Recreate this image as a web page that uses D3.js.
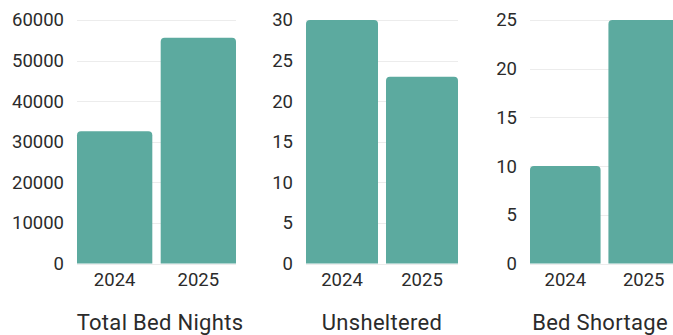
<!DOCTYPE html>
<html>
<head>
<meta charset="utf-8">
<script src="https://cdn.jsdelivr.net/npm/d3@7"></script>
<style>
  html, body { margin: 0; padding: 0; background: #fff; }
  svg { display: block; font-family: Roboto, "Open Sans", sans-serif; }
</style>
</head>
<body>
<svg id="chart" width="673" height="335"></svg>
<script>
// Year categories shared by every panel
const years = ["2024", "2025"];

// One small series per panel
const totalBedNights = [32600, 55600];
const unsheltered = [30, 23];
const bedShortage = [10, 25];

// Panel titles and y tick values
const titles = ["Total Bed Nights", "Unsheltered", "Bed Shortage"];
const ticksTotal = [0, 10000, 20000, 30000, 40000, 50000, 60000];
const ticksUnsheltered = [0, 5, 10, 15, 20, 25, 30];
const ticksShortage = [0, 5, 10, 15, 20, 25];

const panels = [
  { title: titles[0], values: totalBedNights, ticks: ticksTotal, x0: 77, x1: 236, tx: 160 },
  { title: titles[1], values: unsheltered, ticks: ticksUnsheltered, x0: 306, x1: 458, tx: 382 },
  { title: titles[2], values: bedShortage, ticks: ticksShortage, x0: 530, x1: 679, tx: 600 }
];

const svg = d3.select("#chart");
const plotTop = 20, plotBottom = 263.5;
const barColor = "#5caa9f";
const textColor = "#2b2b2b";
const fontStack = "Roboto, sans-serif";

// Bar with rounded top corners and square base
function barPath(x, y, w, h, r) {
  r = Math.min(r, w / 2, h);
  return `M${x},${y + h}V${y + r}Q${x},${y} ${x + r},${y}H${x + w - r}Q${x + w},${y} ${x + w},${y + r}V${y + h}Z`;
}

panels.forEach(p => {
  const g = svg.append("g");
  const x = d3.scaleBand().domain(years).range([p.x0, p.x1]).paddingInner(0.1).paddingOuter(0);
  const y = d3.scaleLinear().domain([0, d3.max(p.ticks)]).range([plotBottom, plotTop]);

  // horizontal gridlines
  g.append("g").selectAll("line").data(p.ticks).join("line")
    .attr("x1", p.x0).attr("x2", p.x1)
    .attr("y1", d => Math.round(y(d)) + 0.5).attr("y2", d => Math.round(y(d)) + 0.5)
    .attr("stroke", "#ececec").attr("stroke-width", 1);

  // bars
  g.append("g").selectAll("path").data(p.values).join("path")
    .attr("d", (d, i) => barPath(x(years[i]), y(d), x.bandwidth(), plotBottom - y(d), 4))
    .attr("fill", barColor);

  // y axis
  const ya = g.append("g").attr("transform", `translate(${p.x0},0)`)
    .call(d3.axisLeft(y).tickValues(p.ticks).tickSize(0).tickPadding(13).tickFormat(d3.format("d")));
  ya.select(".domain").remove();
  ya.selectAll("text").attr("font-size", 18.5).attr("fill", textColor).style("font-family", fontStack);

  // x axis
  const xa = g.append("g").attr("transform", `translate(0,${plotBottom})`)
    .call(d3.axisBottom(x).tickSize(0).tickPadding(9));
  xa.select(".domain").remove();
  xa.selectAll("text").attr("font-size", 18.5).attr("fill", textColor).style("font-family", fontStack);

  // panel title
  g.append("text")
    .attr("x", p.tx).attr("y", 330)
    .attr("text-anchor", "middle")
    .attr("font-size", 22).attr("fill", textColor)
    .attr("letter-spacing", 0.3)
    .style("font-family", fontStack)
    .text(p.title);
});
</script>
</body>
</html>
